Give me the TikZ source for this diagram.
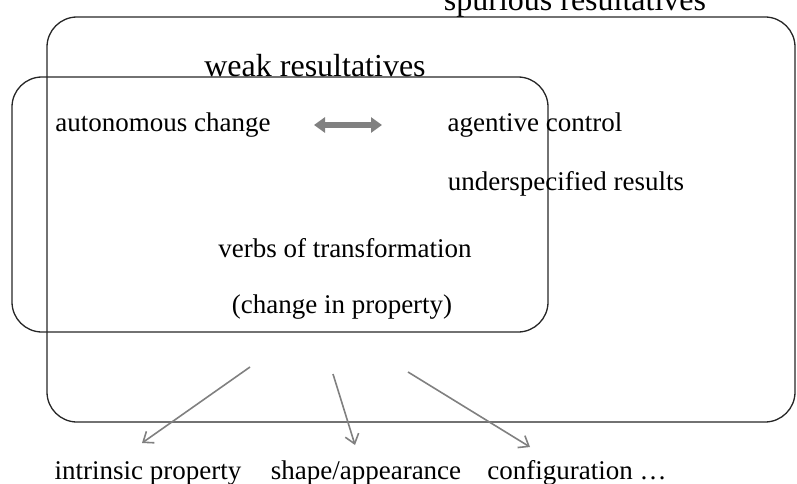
\documentclass[tikz,border=0pt]{standalone}
\usepackage{fontspec}
\setmainfont{Liberation Serif}
\usetikzlibrary{arrows.meta}
\begin{document}
\begin{tikzpicture}[x=1pt,y=-1pt,
  box/.style={draw=black!85,line width=1.3pt,rounded corners=30pt},
  lbl/.style={font=\fontsize{27}{30}\selectfont,inner sep=0pt},
  big/.style={font=\fontsize{32}{36}\selectfont,inner sep=0pt},
  arr/.style={draw=black!50,line width=1.6pt,-{Straight Barb[length=9pt,width=14pt]}}]
\useasboundingbox (0,0) rectangle (797,484);
\begin{scope}
\clip (0,0) rectangle (797,484);
\draw[box] (47,17) rectangle (795,422);
\draw[box] (12,77) rectangle (548,332);
\node[big] (sp) at (575,3) {spurious resultatives};
\node[big] (wk) at (315,66) {weak resultatives};
\node[lbl] (ac) at (163,125) {autonomous change};
\node[lbl] (ag) at (535,125) {agentive control};
\node[lbl] (us) at (566,184) {underspecified results};
\node[lbl] (vt) at (345,248) {verbs of transformation};
\node[lbl] (cp) at (342,307) {(change in property)};
\coordinate (dl) at (314,125); \coordinate (dr) at (382,125);
\draw[draw=black!50,fill=black!50,line width=6pt,{Triangle[length=11pt,width=15pt]}-{Triangle[length=11pt,width=15pt]}] (dl) -- (dr);
\node[lbl] (ip) at (148,473) {intrinsic property};
\node[lbl] (sa) at (366,473) {shape/appearance};
\node[lbl] (cf) at (577,473) {configuration \dots};
\coordinate (a1) at (250,367); \coordinate (b1) at (142,443);
\coordinate (a2) at (333,374); \coordinate (b2) at (355,445);
\coordinate (a3) at (408,372); \coordinate (b3) at (530,447);
\draw[arr] (a1) -- (b1);
\draw[arr] (a2) -- (b2);
\draw[arr] (a3) -- (b3);
\end{scope}
\end{tikzpicture}
\end{document}
